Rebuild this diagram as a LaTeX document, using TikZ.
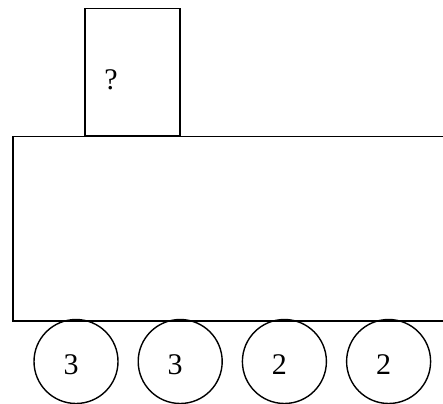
\documentclass[tikz,border=0pt]{standalone}
\usepackage{fontspec}
\setmainfont{Liberation Serif}
\tikzset{
  part/.style={draw,line width=1.8pt,inner sep=0pt},
  wheel/.style={draw,circle,line width=1.4pt,minimum size=84pt,inner sep=0pt},
  tag/.style={font=\fontsize{30}{30}\selectfont,inner sep=0pt}
}
\begin{document}
\begin{tikzpicture}[x=1pt,y=-1pt]
\useasboundingbox (0,0) rectangle (443,403);
\clip (0,0) rectangle (443,403);
% cab and body
\node[part,minimum width=95pt,minimum height=127.5pt] (cab) at (132.5,72.25) {};
\node[tag] (ask) at (111,80) {?};
\node[part,minimum width=447pt,minimum height=184.5pt] (body) at (236.5,228.75) {};
% wheels
\foreach \n/\v [count=\i from 0] in {w1/3,w2/3,w3/2,w4/2}
  \node[wheel,label={[tag,xshift=-5pt,yshift=-3pt]center:\v}] (\n) at (76+104.2*\i,361.5) {};
\end{tikzpicture}
\end{document}
